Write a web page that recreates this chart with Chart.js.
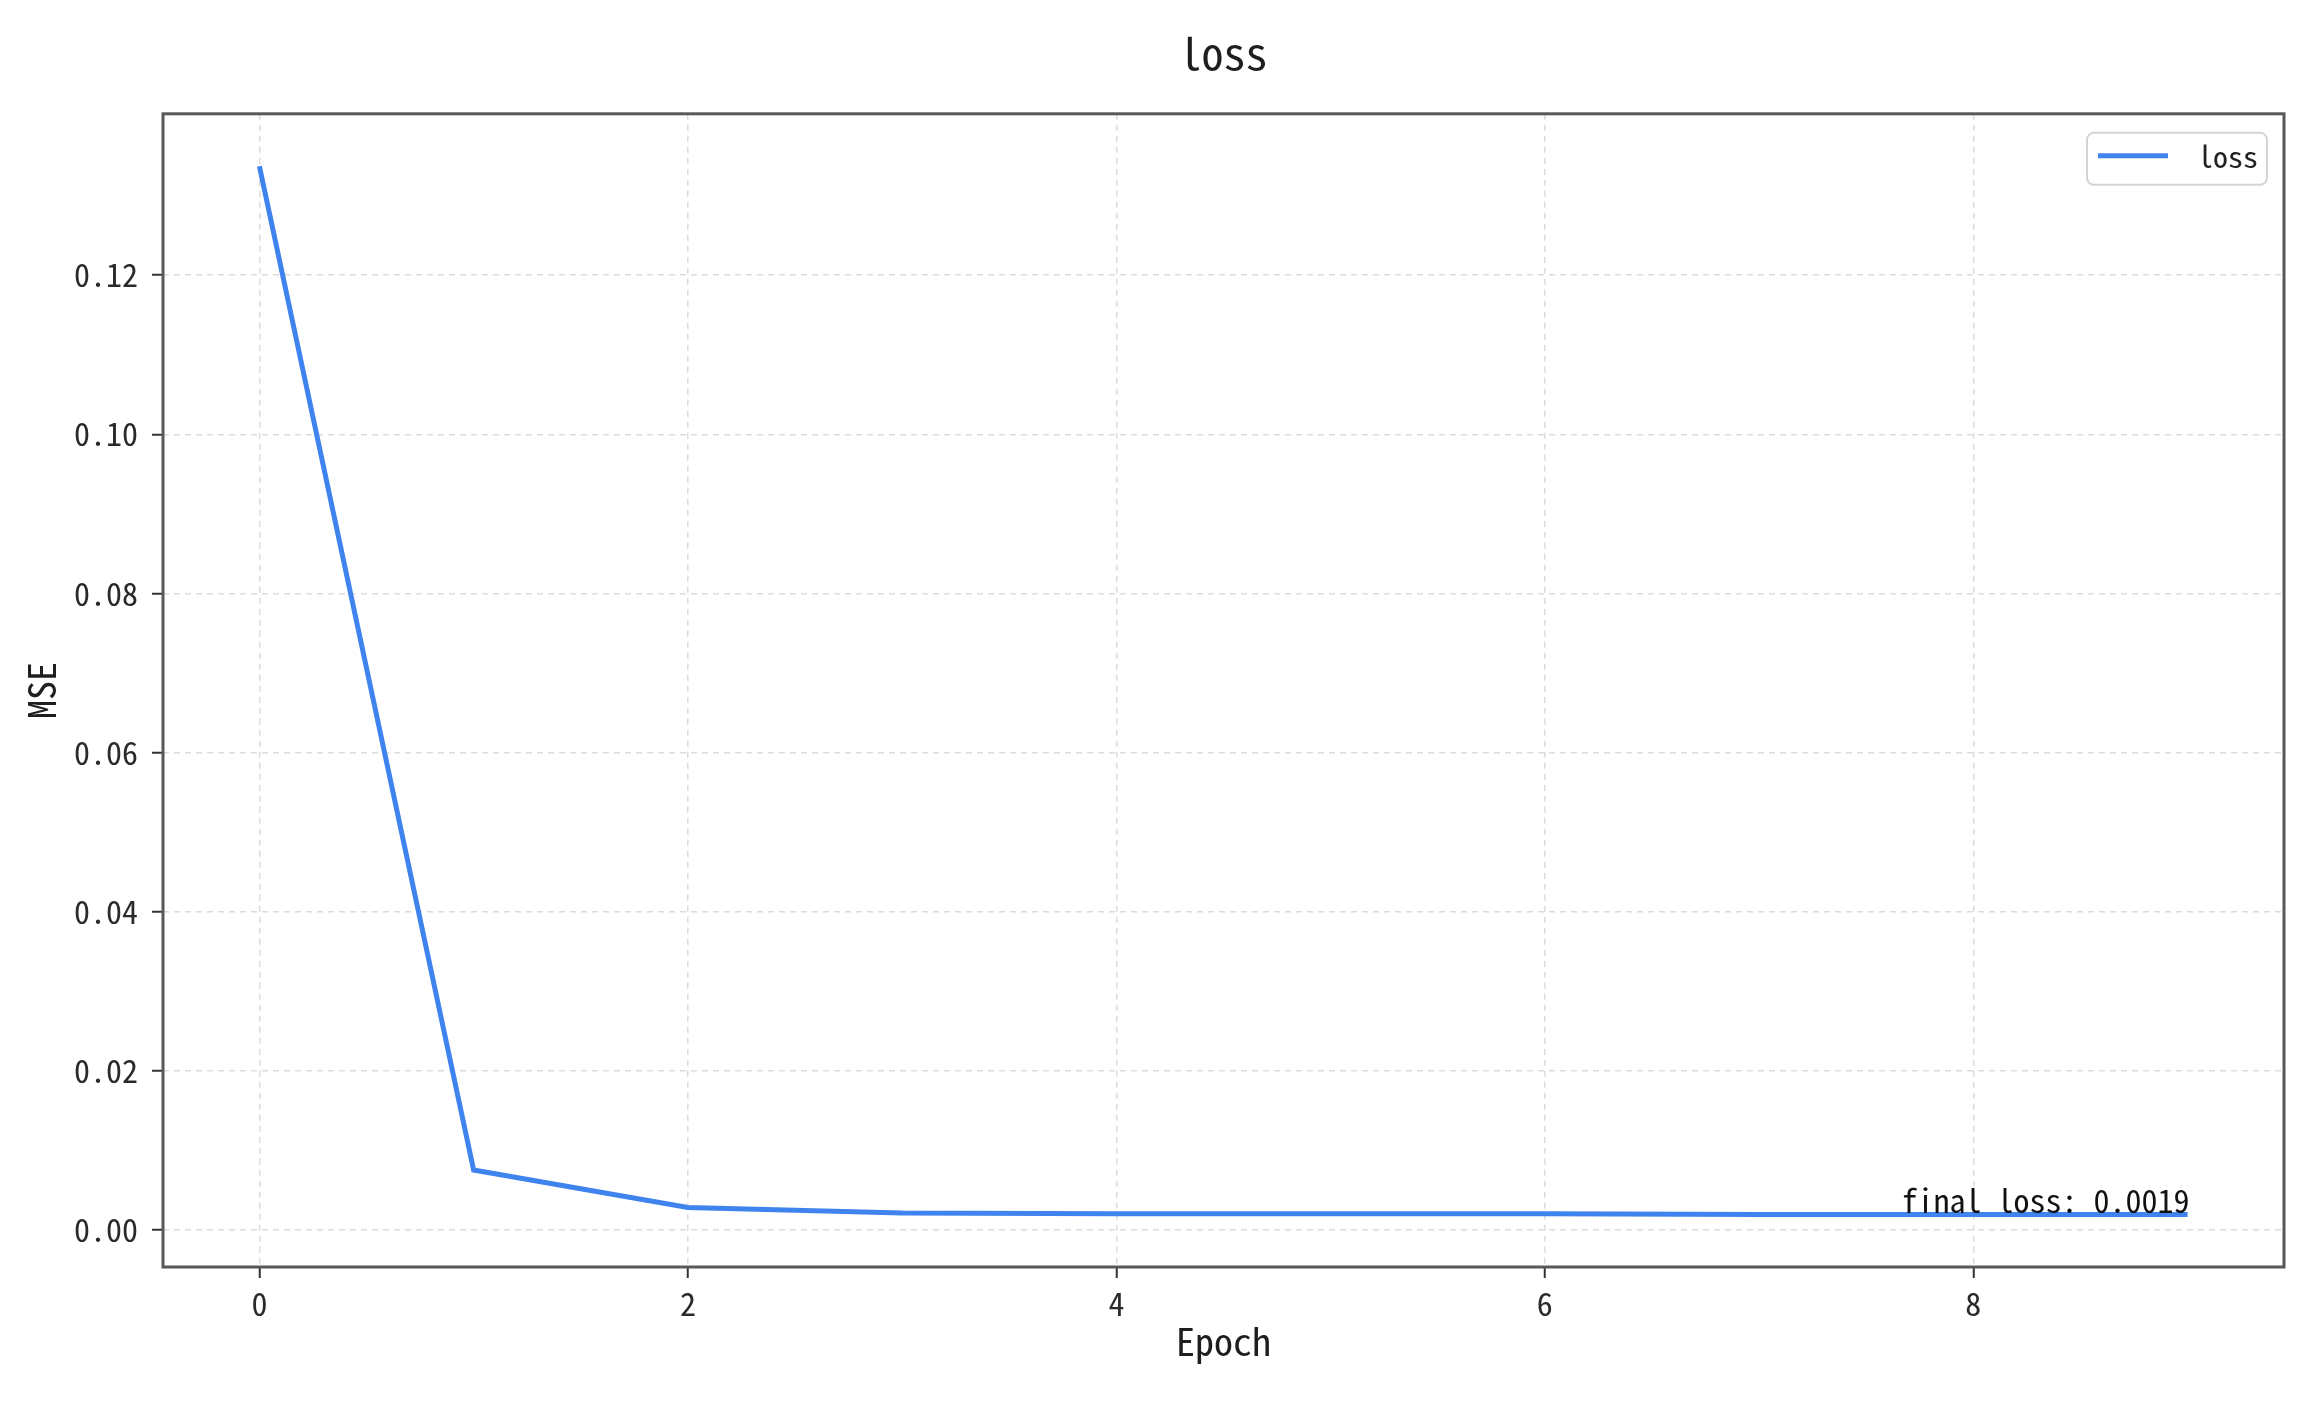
<!DOCTYPE html>
<html>
<head>
<meta charset="utf-8">
<script src="https://cdn.jsdelivr.net/npm/chart.js@4/dist/chart.umd.min.js"></script>
<style>
  html, body { margin: 0; padding: 0; background: #fff; }
  canvas { display: block; }
</style>
</head>
<body>
<canvas id="lossChart" width="2324" height="1408"></canvas>
<script>
// ===== dados do gráfico =====
const epochs = [0, 1, 2, 3, 4, 5, 6, 7, 8, 9];
const lossValues = [0.1337, 0.0075, 0.0028, 0.0021, 0.0020, 0.0020, 0.0020, 0.0019, 0.0019, 0.0019];
const xTicks = [0, 2, 4, 6, 8];
const yTicks = [0.00, 0.02, 0.04, 0.06, 0.08, 0.10, 0.12];

const FONTE = '"Noto Sans Mono CJK SC", "Noto Sans CJK SC", sans-serif';
const AZUL = '#3f83ee';

// margem de 5% igual ao matplotlib
function comMargem(valores) {
  const min = Math.min(...valores), max = Math.max(...valores);
  const m = (max - min) * 0.05;
  return { min: min - m, max: max + m };
}
const limX = comMargem(epochs);
const limY = comMargem(lossValues);

// moldura em volta da área do gráfico
const molduraPlugin = {
  id: 'moldura',
  afterDatasetsDraw(chart) {
    const { ctx, chartArea: a } = chart;
    ctx.save();
    ctx.strokeStyle = '#585858';
    ctx.lineWidth = 3;
    ctx.strokeRect(a.left, a.top, a.right - a.left, a.bottom - a.top);
    ctx.restore();
  }
};

// legenda com caixa no canto superior direito
const legendaPlugin = {
  id: 'legendaCaixa',
  afterDraw(chart) {
    const { ctx, chartArea: a } = chart;
    const ds = chart.data.datasets[0];
    const w = 180, h = 52;
    const x = a.right - 17 - w, y = a.top + 19;
    ctx.save();
    ctx.beginPath();
    ctx.roundRect(x, y, w, h, 7);
    ctx.fillStyle = 'rgba(255,255,255,0.85)';
    ctx.fill();
    ctx.strokeStyle = '#d4d4d4';
    ctx.lineWidth = 2;
    ctx.stroke();
    ctx.beginPath();
    ctx.moveTo(x + 11, y + 23);
    ctx.lineTo(x + 81, y + 23);
    ctx.strokeStyle = ds.borderColor;
    ctx.lineWidth = 5;
    ctx.stroke();
    ctx.fillStyle = '#222';
    ctx.font = '30px ' + FONTE;
    ctx.textAlign = 'left';
    ctx.textBaseline = 'middle';
    ctx.fillText(ds.label, x + 111, y + 24);
    ctx.restore();
  }
};

// texto "final loss" no último ponto
const finalPlugin = {
  id: 'finalLoss',
  afterDatasetsDraw(chart) {
    const { ctx, scales } = chart;
    const i = lossValues.length - 1;
    const px = scales.x.getPixelForValue(epochs[i]);
    const py = scales.y.getPixelForValue(lossValues[i]);
    ctx.save();
    ctx.fillStyle = '#111';
    ctx.font = '32px ' + FONTE;
    ctx.textAlign = 'right';
    ctx.textBaseline = 'alphabetic';
    ctx.fillText('final loss: ' + lossValues[i].toFixed(4), px + 2, py - 2);
    ctx.restore();
  }
};

function renderizarGraficoLoss() {
  const ctx = document.getElementById('lossChart');
  if (!ctx) return;

  new Chart(ctx, {
    type: 'line',
    data: {
      datasets: [{
        label: 'loss',
        data: epochs.map((e, i) => ({ x: e, y: lossValues[i] })),
        borderColor: AZUL,
        borderWidth: 5,
        pointRadius: 0,
        tension: 0,
        fill: false
      }]
    },
    options: {
      responsive: false,
      animation: false,
      layout: { padding: { left: 0, right: 40, top: 0, bottom: 0 } },
      plugins: {
        legend: { display: false },
        tooltip: { enabled: false },
        title: {
          display: true,
          fullSize: false, // centraliza sobre a área do gráfico
          text: 'loss',
          color: '#1e1e1e',
          font: { family: FONTE, size: 44, weight: 'normal' },
          padding: { top: 27, bottom: 34 }
        }
      },
      scales: {
        x: {
          type: 'linear',
          min: limX.min,
          max: limX.max,
          afterBuildTicks: (axis) => { axis.ticks = xTicks.map(v => ({ value: v })); },
          afterFit: (axis) => { axis.height = 141; },
          ticks: {
            color: '#2a2a2a',
            padding: 7,
            font: { family: FONTE, size: 32 },
            callback: (v) => String(v)
          },
          grid: {
            color: '#dcdcdc',
            lineWidth: 1.5,
            tickLength: 11,
            tickColor: '#333',
            tickWidth: 2,
            tickBorderDash: []
          },
          border: { display: false, dash: [6, 5] },
          title: {
            display: true,
            text: 'Epoch',
            color: '#1e1e1e',
            font: { family: FONTE, size: 38 },
            padding: { top: 0, bottom: 44 }
          }
        },
        y: {
          type: 'linear',
          min: limY.min,
          max: limY.max,
          afterBuildTicks: (axis) => { axis.ticks = yTicks.map(v => ({ value: v })); },
          afterFit: (axis) => { axis.width = 163; },
          ticks: {
            color: '#2a2a2a',
            padding: 14,
            font: { family: FONTE, size: 32 },
            callback: (v) => Number(v).toFixed(2)
          },
          grid: {
            color: '#dcdcdc',
            lineWidth: 1.5,
            tickLength: 11,
            tickColor: '#333',
            tickWidth: 2,
            tickBorderDash: []
          },
          border: { display: false, dash: [6, 5] },
          title: {
            display: true,
            text: 'MSE',
            color: '#1e1e1e',
            font: { family: FONTE, size: 38 },
            padding: { top: 19, bottom: 0 }
          }
        }
      }
    },
    plugins: [molduraPlugin, legendaPlugin, finalPlugin]
  });
}

renderizarGraficoLoss();
</script>
</body>
</html>
